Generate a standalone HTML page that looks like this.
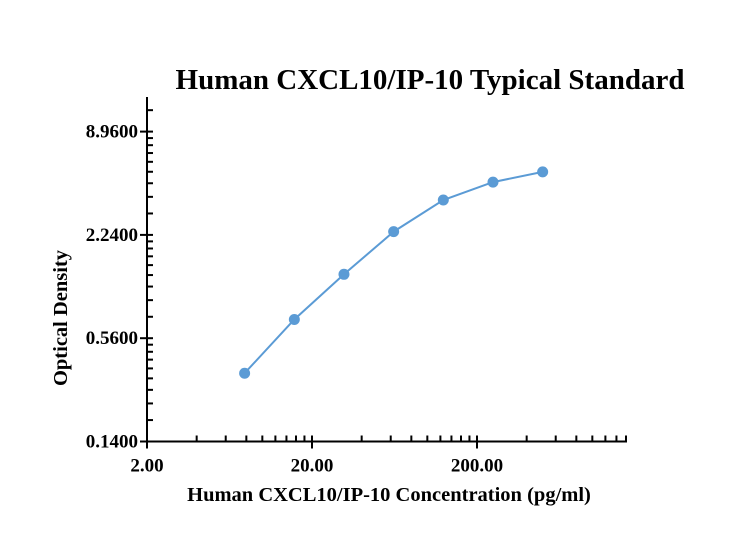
<!DOCTYPE html>
<html><head><meta charset="utf-8"><style>
body{margin:0;background:#fff}
svg text{font-family:"Liberation Serif",serif;font-weight:bold;fill:#000}
</style></head><body>
<svg width="737" height="553">
<text x="430" y="89" font-size="29" text-anchor="middle">Human CXCL10/IP-10 Typical Standard</text>
<g id="axes"></g>
<g id="series"></g>
<text x="389" y="501" font-size="20.5" text-anchor="middle">Human CXCL10/IP-10 Concentration (pg/ml)</text>
<text transform="translate(67,318) rotate(-90)" font-size="20.5" text-anchor="middle">Optical Density</text>
</svg>
<script>
const concentrations=[7.81,15.63,31.25,62.5,125,250,500];
const odValues=[0.35,0.72,1.32,2.34,3.58,4.55,5.22];
const xTickLabels=["2.00","20.00","200.00"];
const yTickLabels=["0.1400","0.5600","2.2400","8.9600"];
const NS="http://www.w3.org/2000/svg";
const X0=147,DEC=165,Y0=441.5,F4=103.3;
const xs=v=>X0+DEC*Math.log10(v/2);
const ys=v=>Y0-F4*Math.log(v/0.14)/Math.log(4);
function mk(t,a,p){const e=document.createElementNS(NS,t);for(const k in a)e.setAttribute(k,a[k]);p.appendChild(e);return e;}
const ax=document.getElementById('axes');
const yl=mk('line',{x1:X0,y1:97,x2:X0,y2:Y0,stroke:'#000','stroke-width':2},ax);


const xl=mk('line',{x1:X0,y1:Y0,x2:627,y2:Y0,stroke:'#000','stroke-width':2},ax);


xTickLabels.forEach(s=>{const v=parseFloat(s);const x=xs(v);
mk('line',{x1:x,y1:Y0-6,x2:x,y2:Y0+7,stroke:'#000','stroke-width':2},ax);
const t=mk('text',{x:x,y:Y0+30,'font-size':19,'text-anchor':'middle'},ax);t.textContent=s;

});
[2,20,200].forEach(b=>{for(let k=2;k<=9;k++){const x=xs(b*k);if(x>627)break;
mk('line',{x1:x,y1:Y0-6,x2:x,y2:Y0,stroke:'#000','stroke-width':2},ax);}});
yTickLabels.forEach(s=>{const v=parseFloat(s);const y=ys(v);
mk('line',{x1:X0-7,y1:y,x2:X0+6,y2:y,stroke:'#000','stroke-width':2},ax);
const t=mk('text',{x:X0-9,y:y+6,'font-size':19,'text-anchor':'end'},ax);t.textContent=s;

});
[0.14,0.56,2.24,8.96].forEach(b=>{for(let k=4;k<12;k++){const y=ys(b*k/3);if(y<98)break;
mk('line',{x1:X0,y1:y,x2:X0+6,y2:y,stroke:'#000','stroke-width':2},ax);}});
const sg=document.getElementById('series');
const pts=concentrations.map((c,i)=>[xs(c),ys(odValues[i])]);
const pl=mk('path',{d:'M'+pts.map(p=>p[0].toFixed(1)+','+p[1].toFixed(1)).join(' L'),fill:'none',stroke:'#5b9bd5','stroke-width':2},sg);


pts.forEach(p=>{const c=mk('circle',{cx:p[0],cy:p[1],r:5.5,fill:'#5b9bd5'},sg);

});
</script>
</body></html>
